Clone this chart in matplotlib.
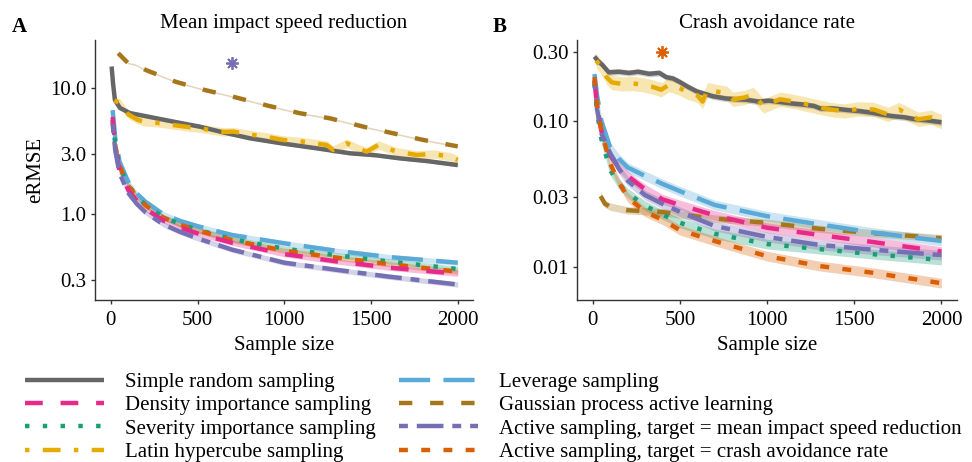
"""Sample-size comparison of sampling methods: eRMSE for two targets."""

import matplotlib.pyplot as plt
from matplotlib.lines import Line2D
import numpy as np

plt.rcParams["font.family"] = ["Liberation Serif", "DejaVu Serif"]
plt.rcParams["font.size"] = 15

# ---------------------------------------------------------------- data
method_labels = [
    "Simple random sampling",
    "Density importance sampling",
    "Severity importance sampling",
    "Latin hypercube sampling",
    "Leverage sampling",
    "Gaussian process active learning",
    "Active sampling, target = mean impact speed reduction",
    "Active sampling, target = crash avoidance rate",
]
method_keys = ["srs", "density", "severity", "lhs", "leverage", "gp", "as_mean", "as_crash"]

# shared sample-size grid for the smooth importance/active curves
n_grid = [10, 25, 50, 100, 150, 200, 300, 400, 500, 700, 1000, 1300, 1600, 2000]

# panel A: mean impact speed reduction
a_srs_n = [4, 12, 23, 52, 110, 225, 369, 513, 650, 802, 1000, 1187, 1379, 1530, 1667, 1830, 2000]
a_srs_y = [14.9, 11.0, 8.07, 6.97, 6.35, 5.91, 5.40, 4.95, 4.45, 4.00, 3.62, 3.33, 3.04, 2.93, 2.77, 2.63, 2.45]
a_lhs_n = [20, 52, 100, 156, 196, 292, 360, 444, 513, 571, 650, 706, 821, 900, 994, 1108,
           1244, 1281, 1360, 1420, 1475, 1542, 1648, 1763, 1860, 1956, 2000]
a_lhs_y = [8.0, 7.6, 6.2, 5.6, 5.4, 5.27, 5.1, 4.92, 4.8, 4.66, 4.5, 4.52, 4.25, 4.1, 3.88, 3.76,
           3.54, 3.23, 3.65, 3.35, 3.13, 3.54, 3.13, 2.95, 3.0, 2.86, 2.69]
a_gp_n = [42, 98, 140, 200, 370, 540, 700, 900, 1090, 1263, 1456, 1629, 1802, 2000]
a_gp_y = [19.0, 15.9, 15.4, 14.0, 11.3, 9.7, 8.6, 7.3, 6.33, 5.77, 4.95, 4.38, 3.88, 3.45]
a_leverage_y = [6.7, 4.0, 2.6, 1.80, 1.45, 1.25, 1.00, 0.88, 0.80, 0.68, 0.585, 0.51, 0.455, 0.41]
a_severity_y = [5.6, 3.6, 2.4, 1.70, 1.38, 1.18, 0.95, 0.83, 0.75, 0.63, 0.53, 0.47, 0.42, 0.365]
a_as_crash_y = [5.4, 3.5, 2.4, 1.68, 1.37, 1.17, 0.94, 0.82, 0.74, 0.62, 0.51, 0.45, 0.40, 0.348]
a_density_y = [5.9, 3.4, 2.2, 1.55, 1.27, 1.10, 0.89, 0.78, 0.70, 0.59, 0.48, 0.42, 0.375, 0.335]
a_as_mean_y = [5.2, 3.2, 2.1, 1.47, 1.20, 1.03, 0.83, 0.72, 0.64, 0.52, 0.41, 0.36, 0.318, 0.275]

# panel B: crash avoidance rate
b_srs_n = [10, 30, 54, 92, 150, 208, 260, 324, 382, 422, 460, 497, 545, 595, 640, 688, 760, 827,
           882, 950, 1010, 1075, 1140, 1200, 1268, 1306, 1380, 1460, 1530, 1600, 1653, 1720, 1790, 1846, 1920, 2000]
b_srs_y = [0.277, 0.258, 0.244, 0.216, 0.218, 0.214, 0.218, 0.211, 0.214, 0.200, 0.196, 0.186, 0.172,
           0.160, 0.154, 0.148, 0.143, 0.141, 0.140, 0.136, 0.138, 0.135, 0.132, 0.130, 0.127, 0.122,
           0.122, 0.119, 0.117, 0.114, 0.111, 0.108, 0.106, 0.103, 0.101, 0.098]
b_lhs_n = [20, 46, 80, 110, 168, 230, 283, 340, 393, 439, 500, 537, 600, 630, 659, 700, 769, 805,
           870, 921, 979, 1075, 1170, 1268, 1364, 1440, 1520, 1613, 1693, 1757, 1867, 1942, 2000]
b_lhs_y = [0.26, 0.236, 0.20, 0.184, 0.180, 0.181, 0.178, 0.172, 0.164, 0.178, 0.168, 0.159, 0.150,
           0.136, 0.164, 0.160, 0.155, 0.141, 0.145, 0.152, 0.127, 0.141, 0.135, 0.127, 0.120, 0.117,
           0.121, 0.120, 0.111, 0.120, 0.1027, 0.106, 0.099]
b_gp_n = [45, 70, 100, 200, 300, 400, 500, 700, 1000, 1300, 1600, 2000]
b_gp_y = [0.0305, 0.027, 0.0258, 0.0244, 0.0240, 0.0237, 0.0228, 0.0214, 0.0200, 0.0182, 0.0170, 0.0157]
b_leverage_y = [0.21, 0.15, 0.10, 0.066, 0.055, 0.048, 0.042, 0.037, 0.033, 0.0265, 0.0222, 0.0195, 0.0172, 0.0150]
b_density_y = [0.19, 0.125, 0.085, 0.058, 0.048, 0.042, 0.034, 0.029, 0.0265, 0.0225, 0.0185, 0.0165, 0.0148, 0.0127]
b_severity_y = [0.18, 0.115, 0.075, 0.046, 0.037, 0.032, 0.0262, 0.0228, 0.020, 0.0168, 0.0143, 0.0132, 0.0122, 0.0111]
b_as_mean_y = [0.19, 0.12, 0.082, 0.060, 0.047, 0.039, 0.031, 0.027, 0.0238, 0.019, 0.0160, 0.0141, 0.0131, 0.0120]
b_as_crash_y = [0.20, 0.13, 0.085, 0.051, 0.038, 0.030, 0.0238, 0.021, 0.0178, 0.0150, 0.0118, 0.0101, 0.0091, 0.0077]

# relative half-width of the uncertainty ribbons
a_band = {"srs": 0.03, "density": 0.05, "severity": 0.05, "lhs": 0.08,
          "leverage": 0.05, "gp": 0.015, "as_mean": 0.05, "as_crash": 0.05}
b_band = {"srs": 0.05, "density": 0.08, "severity": 0.08, "lhs": 0.12,
          "leverage": 0.08, "gp": 0.06, "as_mean": 0.08, "as_crash": 0.08}

# best method markers (asterisks)
a_star = (700, 15.8)
b_star = (400, 0.30)

a_ticks = [0.3, 1.0, 3.0, 10.0]
b_ticks = [0.01, 0.03, 0.10, 0.30]
x_ticks = [0, 500, 1000, 1500, 2000]

# ---------------------------------------------------------------- styles
colors = {
    "srs": "#666666",
    "density": "#E7298A",
    "severity": "#1B9E77",
    "lhs": "#E6AB02",
    "leverage": "#5AAAD7",
    "gp": "#A6761D",
    "as_mean": "#7570B3",
    "as_crash": "#D95F02",
}
dashes = {
    "srs": "-",
    "density": (0, (4, 4)),
    "severity": (0, (1, 3)),
    "lhs": (0, (1, 3, 4, 3)),
    "leverage": (0, (7, 3)),
    "gp": (0, (3, 4)),
    "as_mean": (0, (2, 2, 6, 2)),
    "as_crash": (0, (2, 3)),
}
LW = 3.2


def _series(panel):
    if panel == "A":
        return {
            "srs": (a_srs_n, a_srs_y),
            "lhs": (a_lhs_n, a_lhs_y),
            "gp": (a_gp_n, a_gp_y),
            "leverage": (n_grid, a_leverage_y),
            "severity": (n_grid, a_severity_y),
            "as_crash": (n_grid, a_as_crash_y),
            "density": (n_grid, a_density_y),
            "as_mean": (n_grid, a_as_mean_y),
        }
    return {
        "srs": (b_srs_n, b_srs_y),
        "lhs": (b_lhs_n, b_lhs_y),
        "gp": (b_gp_n, b_gp_y),
        "leverage": (n_grid, b_leverage_y),
        "density": (n_grid, b_density_y),
        "severity": (n_grid, b_severity_y),
        "as_mean": (n_grid, b_as_mean_y),
        "as_crash": (n_grid, b_as_crash_y),
    }


def _draw_panel(ax, panel, band, ticks, ylim, title, star, star_color):
    data = _series(panel)
    for key, (n, y) in data.items():
        n = np.asarray(n, float)
        y = np.asarray(y, float)
        w = band[key]
        ax.fill_between(n, y / (1 + w), y * (1 + w), color=colors[key], alpha=0.3, lw=0)
    for key, (n, y) in data.items():
        ax.plot(n, y, color=colors[key], lw=LW, linestyle=dashes[key],
                solid_capstyle="butt", dash_capstyle="butt")
    ax.plot(*star, marker=(8, 2, 0), color=star_color, markersize=9, mew=1.3, ls="none")

    ax.set_yscale("log")
    ax.set_ylim(*ylim)
    ax.set_xlim(-92, 2088)
    ax.set_yticks(ticks)
    ax.set_yticklabels([f"{t:.1f}" if panel == "A" else f"{t:.2f}" for t in ticks])
    ax.yaxis.set_minor_locator(plt.NullLocator())
    ax.set_xticks(x_ticks)
    ax.set_xlabel("Sample size", labelpad=4)
    ax.set_title(title, pad=9, fontsize=15)
    for side in ("top", "right"):
        ax.spines[side].set_visible(False)
    for side in ("left", "bottom"):
        ax.spines[side].set_color("#333333")
        ax.spines[side].set_linewidth(1.0)
    ax.tick_params(direction="out", length=3, width=1, color="#333333", pad=3, labelsize=15)
    ax.tick_params(axis="x", pad=5)


fig = plt.figure(figsize=(9.72, 4.62), dpi=100)
ax_a = fig.add_axes([0.0977, 0.3506, 0.3889, 0.5628])
ax_b = fig.add_axes([0.5933, 0.3506, 0.3910, 0.5628])

_draw_panel(ax_a, "A", a_band, a_ticks, (0.207, 24.2), "Mean impact speed reduction",
            a_star, colors["as_mean"])
_draw_panel(ax_b, "B", b_band, b_ticks, (0.0059, 0.36), "Crash avoidance rate",
            b_star, colors["as_crash"])
ax_a.set_ylabel("eRMSE", labelpad=4)

fig.text(0.0195, 0.942, "A", fontsize=15, fontweight="bold", ha="center", va="center")
fig.text(0.514, 0.942, "B", fontsize=15, fontweight="bold", ha="center", va="center")

handles = [Line2D([], [], color=colors[k], lw=LW, linestyle=dashes[k],
                  solid_capstyle="butt", dash_capstyle="butt") for k in method_keys]
fig.legend(handles, method_labels, loc="upper left", bbox_to_anchor=(25 / 972, 0.194),
           ncol=2, frameon=False, handlelength=3.8, handletextpad=1.0, columnspacing=1.1,
           labelspacing=0.18, borderpad=0, borderaxespad=0, fontsize=15)

fig.savefig("out.png", dpi=100)
